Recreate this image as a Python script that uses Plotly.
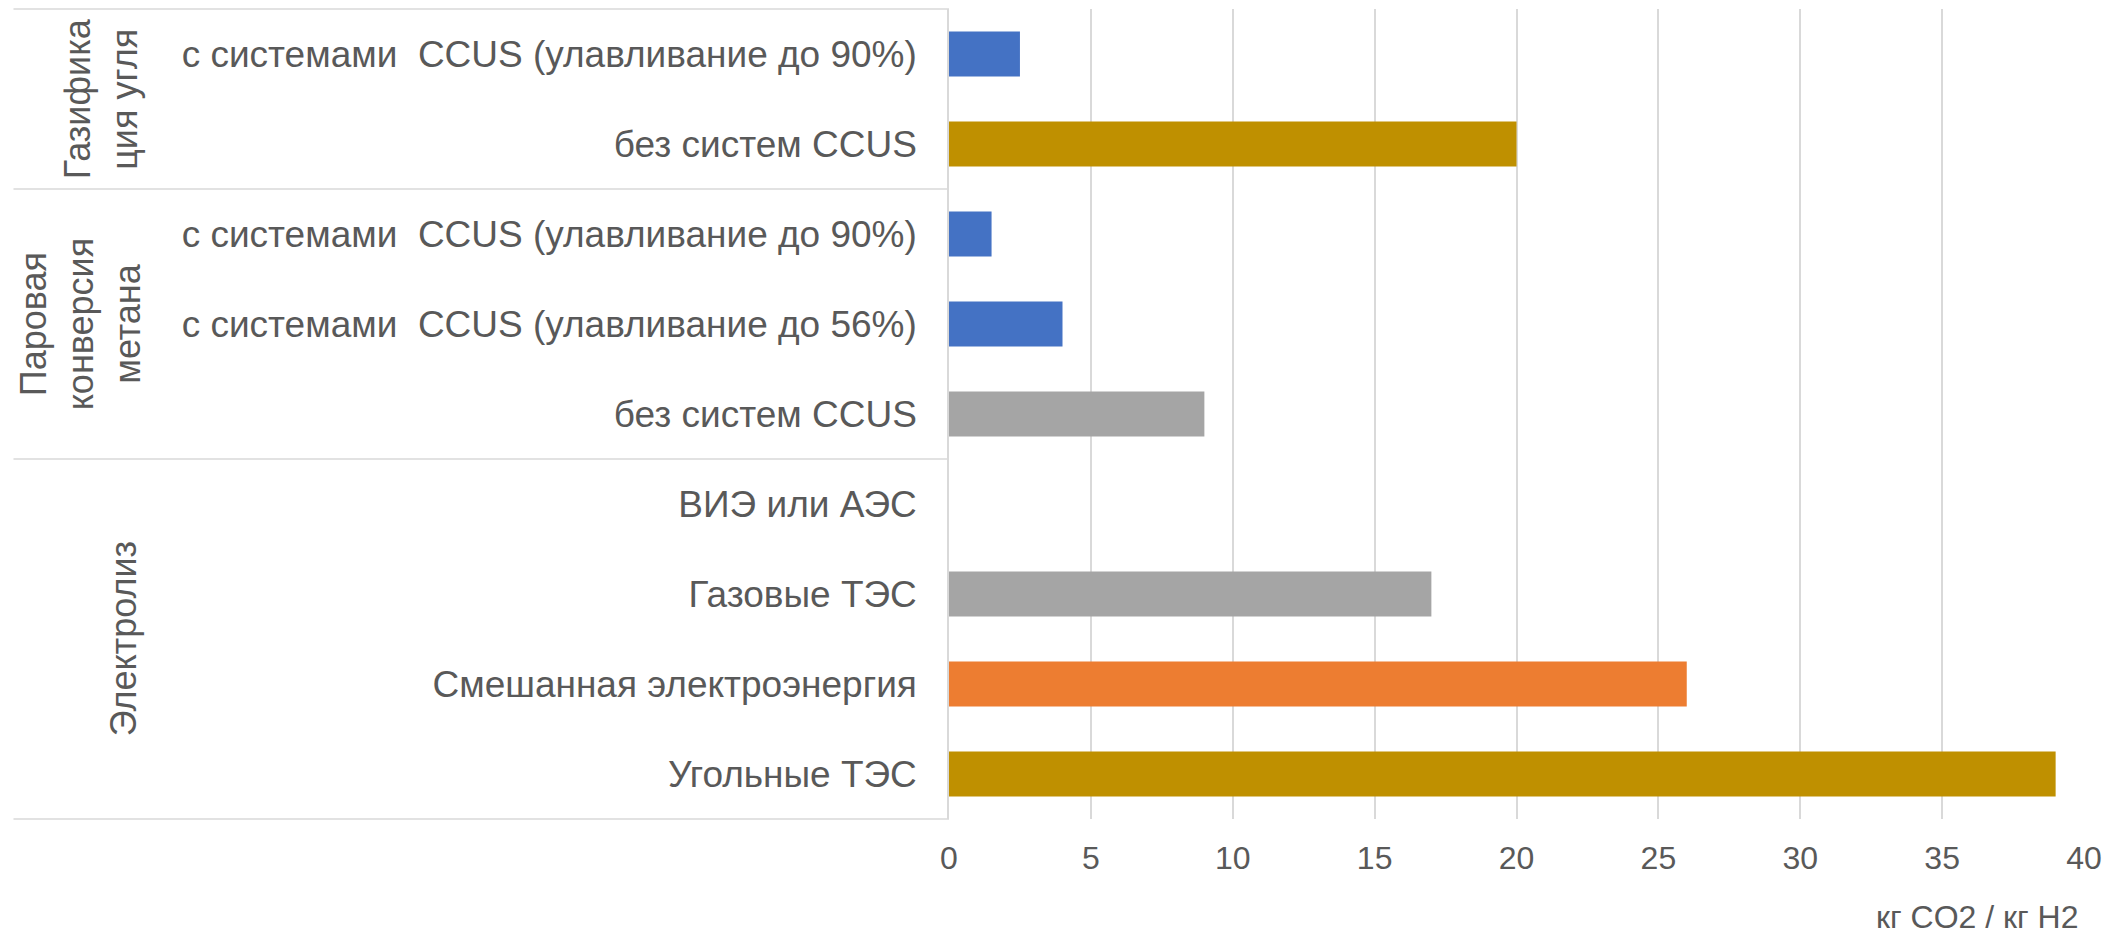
import plotly.graph_objects as go

# ---- data ----
categories = [
    "с системами\u00a0 CCUS (улавливание до 90%)",
    "без систем CCUS",
    "с системами\u00a0 CCUS (улавливание до 90%)",
    "с системами\u00a0 CCUS (улавливание до 56%)",
    "без систем CCUS",
    "ВИЭ или АЭС",
    "Газовые ТЭС",
    "Смешанная электроэнергия",
    "Угольные ТЭС",
]
values = [2.5, 20, 1.5, 4, 9, 0, 17, 26, 39]
bar_colors = ["#4472C4", "#BF9000", "#4472C4", "#4472C4", "#A5A5A5",
              "#A5A5A5", "#A5A5A5", "#ED7D31", "#BF9000"]
groups = ["Газифика<br>ция угля", "Паровая<br>конверсия<br>метана", "Электролиз"]
group_sizes = [2, 3, 4]
x_ticks = [0, 5, 10, 15, 20, 25, 30, 35, 40]
x_title = "кг CO2 / кг H2"

# ---- layout geometry (pixels) ----
W, H = 2111, 938
L, R, T, B = 949, 24, 9, 119
plot_w = W - L - R
plot_h = H - T - B
FONT = "Liberation Sans, Arial, sans-serif"
TXT = "#595959"
GRID = "#D9D9D9"

def px_to_paper_x(p):
    return (p - L) / plot_w

def px_to_paper_y(p):
    return (H - B - p) / plot_h

ypos = list(range(len(categories)))
n = len(categories)

fig = go.Figure()
fig.add_trace(go.Bar(
    x=values, y=ypos, orientation="h",
    marker=dict(color=bar_colors, line=dict(width=0)),
    width=0.5, showlegend=False, hoverinfo="x+text", hovertext=categories,
))

fig.update_layout(
    width=W, height=H,
    margin=dict(l=L, r=R, t=T, b=B, pad=0),
    paper_bgcolor="white", plot_bgcolor="white",
    font=dict(family=FONT, color=TXT),
    bargap=0.5,
    xaxis=dict(
        range=[0, 40], tickvals=x_ticks, ticktext=[str(v) for v in x_ticks],
        showgrid=True, gridcolor=GRID, gridwidth=1.5,
        zeroline=False, showline=False,
        tickfont=dict(size=32, color=TXT, family=FONT),
        ticks="", ticklabelstandoff=17,
    ),
    yaxis=dict(
        range=[n - 0.5, -0.5], tickvals=ypos, ticktext=categories,
        showgrid=False, zeroline=False,
        showline=True, linecolor=GRID, linewidth=1.5,
        tickfont=dict(size=37, color=TXT, family=FONT),
        ticks="", ticklabelstandoff=23,
    ),
)

# group separators (horizontal lines across the label area)
boundaries = [-0.5]
acc = -0.5
for s in group_sizes:
    acc += s
    boundaries.append(acc)
for b in boundaries:
    yp = (n - 0.5 - b) / n
    fig.add_shape(type="line", xref="paper", yref="paper",
                  x0=px_to_paper_x(11), x1=0, y0=yp, y1=yp,
                  line=dict(color=GRID, width=1.5))

# group labels (rotated)
group_centers_px = {1: 121, 2: 99, 3: 78}
start = 0
for g, s in zip(groups, group_sizes):
    nlines = g.count("<br>") + 1
    center = start + (s - 1) / 2
    fig.add_annotation(
        text=g, xref="paper", yref="y",
        x=px_to_paper_x(group_centers_px[nlines]), y=center,
        textangle=-90, showarrow=False, xanchor="center", yanchor="middle",
        font=dict(size=36, color=TXT, family=FONT), align="center",
    )
    start += s

# axis title
fig.add_annotation(
    text=x_title, xref="paper", yref="paper",
    x=px_to_paper_x(2084), y=px_to_paper_y(937),
    xanchor="right", yanchor="bottom", showarrow=False,
    font=dict(size=32, color=TXT, family=FONT),
)

fig.write_html("out.html",
               config={"displayModeBar": False},
               post_script="document.body.style.margin='0';document.body.style.overflow='hidden';")
